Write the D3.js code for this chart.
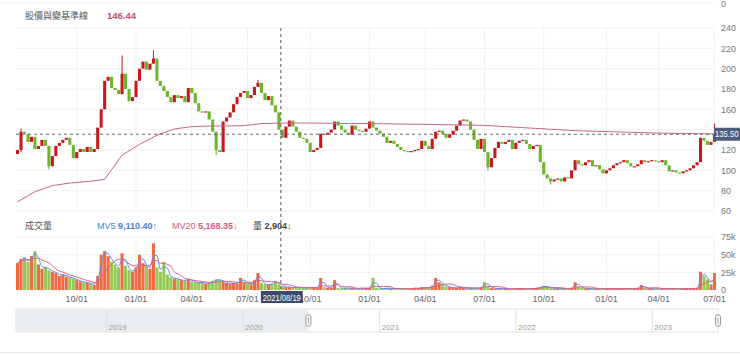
<!DOCTYPE html>
<html>
<head>
<meta charset="utf-8">
<script src="https://cdn.jsdelivr.net/npm/d3@7"></script>
<style>
  body { margin: 0; background: #fff; }
  svg { display: block; font-family: "Liberation Sans", Arial, sans-serif; }
</style>
</head>
<body>
<div id="plot"></div>
<script>
// one candle = about 3.5 trading days
const firstOpen = 116;
const closes = [
  120, 138, 136, 128, 133, 121, 124, 130, 124, 104,
  114, 124, 127, 130, 132, 125, 112, 118, 121, 118,
  123, 118, 121, 142, 160, 188, 192, 181, 179, 175,
  195, 180, 168, 172, 188, 200, 207, 199, 205, 210,
  188, 183, 178, 172, 167, 174, 171, 173, 167, 181,
  176, 166, 158, 157, 158, 150, 138, 120, 118, 148,
  152, 157, 165, 172, 176, 178, 171, 174, 182, 186,
  176, 169, 173, 164, 157, 140, 132, 143, 149, 143,
  138, 132, 131, 127, 118, 120, 122, 136, 135, 137,
  140, 148, 144, 140, 137, 135, 144, 140, 139, 138,
  141, 148, 142, 139, 136, 133, 127, 129, 126, 123,
  120, 119, 118, 119, 120, 121, 129, 124, 121, 131,
  138, 139, 136, 132, 135, 139, 144, 149, 150, 148,
  140, 130, 121, 131, 118, 103, 112, 122, 128, 126,
  128, 130, 121, 127, 129, 130, 126, 121, 124, 125,
  108, 96, 92, 89, 91, 92, 89, 93, 92, 100,
  110, 106, 105, 108, 110, 104, 105, 101, 97, 100,
  102, 105, 107, 108, 110, 107, 104, 104, 106, 110,
  108, 109, 110, 109, 108, 110, 105, 99, 100, 98,
  97, 99, 100, 102, 105, 108, 132, 129, 125, 128,
  135.5
];

// [candle index, low, high] for the visible long shadows
const wicks = [[1, 118, 141], [9, 101, 124], [30, 175, 213], [39, 205, 218],
  [57, 115, 138], [69, 182, 189], [135, 100, 118], [153, 86, 92], [200, 128, 146]];

// volume, thousands of lots
const volumes = [
  38, 44, 46, 40, 48, 55, 36, 30, 33, 28,
  26, 24, 20, 22, 19, 18, 16, 14, 12, 11,
  10, 9, 7, 20, 50, 55, 48, 40, 36, 32,
  52, 34, 28, 26, 32, 50, 38, 34, 30, 66,
  32, 26, 40, 22, 18, 16, 15, 14, 13, 16,
  12, 11, 10, 11, 9, 10, 13, 15, 14, 12,
  10, 9, 10, 9, 17, 11, 10, 8, 14, 24,
  10, 8, 7, 9, 13, 8, 5, 4, 4, 3,
  4, 3, 3, 3, 4, 3, 4, 17, 4, 3,
  3, 14, 3, 2, 3, 2, 3, 2, 2, 3,
  2, 3, 17, 3, 2, 2, 3, 2, 2, 2,
  2, 2, 2, 2, 3, 2, 4, 3, 4, 6,
  17, 11, 8, 5, 4, 3, 3, 4, 3, 2,
  3, 2, 3, 4, 11, 6, 3, 2, 2, 2,
  2, 2, 2, 2, 1.5, 2, 2, 2, 2, 3,
  4, 6, 4, 3, 2, 2, 2, 2, 2, 3,
  11, 5, 3, 2, 2, 2, 1.5, 2, 2, 2,
  2, 2, 1.5, 2, 2, 2, 1.5, 2, 3, 7,
  3, 2, 2, 1.5, 2, 2, 1.5, 2, 2, 2,
  1.5, 2, 2, 2, 2, 3, 26, 20, 15, 8,
  24
];

// pink base line, one value every 5 candles
const baseStep = 5;
const baseLine = [
  69, 79, 85, 87.5, 89, 91, 115, 125.5, 134.5, 140.7,
  143, 143.5, 143.6, 144, 146, 146.4, 146.5, 146.5, 146.3, 146,
  146, 145.8, 145.5, 145.3, 145, 144.8, 144.6, 144, 143, 142,
  141, 140, 139, 138.5, 138, 137.5, 137, 136.6, 136.3, 136,
  135.8
];

const priceTicks = [60, 80, 100, 120, 140, 160, 180, 200, 220, 240];
const volTicks = [0, 25, 50, 75];
const tickIdx = [17, 34, 50, 66, 84, 101, 117, 134, 151, 169, 184, 200];
const tickLabels = ["10/01", "01/01", "04/01", "07/01", "10/01", "01/01",
  "04/01", "07/01", "10/01", "01/01", "04/01", "07/01"];
const navYears = [2019, 2020, 2021, 2022, 2023];

const lastClose = 135.5;
const crossIdx = 76;
const crossDate = "2021/08/19";

const w = 740;
const h = 354;
const left = 16, right = 716;
const red = "#c9171e", green = "#6cb52d";

const svg = d3.select("div#plot")
    .append("svg")
    .attr("width", w)
    .attr("height", h);

const x = d3.scaleBand()
    .domain(d3.range(closes.length))
    .range([left, right])
    .paddingInner(0.12);
const bw = x.bandwidth();
const cx = i => x(i) + bw / 2;

const y = d3.scaleLinear()
    .domain([60, 240])
    .range([211, 28]);

const yv = d3.scaleLinear()
    .domain([0, 75])
    .range([290, 237]);

const opens = closes.map((c, i) => i === 0 ? firstOpen : closes[i - 1]);

// top border
svg.append("line")
    .attr("x1", 0).attr("x2", 713)
    .attr("y1", 3).attr("y2", 3)
    .attr("stroke", "#eee");
svg.append("text")
    .attr("x", 721).attr("y", 7)
    .attr("font-size", 9).attr("fill", "#777")
    .text("0");

// grid
const grid = svg.append("g").attr("stroke", "#f1f1f1");
grid.selectAll(".hp")
  .data(priceTicks)
  .enter().append("line")
    .attr("x1", left).attr("x2", 713)
    .attr("y1", d => y(d)).attr("y2", d => y(d));
grid.selectAll(".hv")
  .data(volTicks)
  .enter().append("line")
    .attr("x1", left).attr("x2", 713)
    .attr("y1", d => yv(d)).attr("y2", d => yv(d));
grid.selectAll(".vp")
  .data(tickIdx)
  .enter().append("line")
    .attr("x1", d => cx(d)).attr("x2", d => cx(d))
    .attr("y1", 28).attr("y2", 211);
grid.selectAll(".vv")
  .data(tickIdx)
  .enter().append("line")
    .attr("x1", d => cx(d)).attr("x2", d => cx(d))
    .attr("y1", 237).attr("y2", 290);

// headers
const head = svg.append("g")
    .attr("font-family", "'Noto Sans CJK TC', 'Liberation Sans', sans-serif")
    .attr("font-size", 9);
head.append("text").attr("x", 25).attr("y", 19).attr("fill", "#555").text("股價與變基準線");
head.append("text").attr("x", 107).attr("y", 19).attr("fill", "#c04d7c")
    .attr("font-family", "'Liberation Sans', Arial, sans-serif")
    .attr("font-weight", "bold").attr("font-size", 9.5).text("146.44");
head.append("text").attr("x", 25).attr("y", 229).attr("fill", "#555").text("成交量");

const legend = svg.append("g")
    .attr("font-family", "'Liberation Sans', Arial, sans-serif")
    .attr("font-size", 9);
legend.append("text").attr("x", 97).attr("y", 229).attr("fill", "#4b7fd4")
    .html('MV5 <tspan font-weight="bold">9,110.40</tspan>↑');
legend.append("text").attr("x", 172).attr("y", 229).attr("fill", "#d65a83")
    .html('MV20 <tspan font-weight="bold">5,168.35</tspan>↓');
legend.append("text").attr("x", 253).attr("y", 229).attr("fill", "#444")
    .html('<tspan font-family="Noto Sans CJK TC">量</tspan> <tspan font-weight="bold">2,904</tspan>↓');

// candles
const candles = svg.append("g");
candles.selectAll("line")
  .data(wicks)
  .enter().append("line")
    .attr("x1", d => cx(d[0])).attr("x2", d => cx(d[0]))
    .attr("y1", d => y(d[1])).attr("y2", d => y(d[2]))
    .attr("stroke", d => closes[d[0]] >= opens[d[0]] ? red : green)
    .attr("stroke-width", 1);
candles.selectAll("rect")
  .data(closes)
  .enter().append("rect")
    .attr("x", (d, i) => x(i))
    .attr("width", bw)
    .attr("y", (d, i) => y(Math.max(d, opens[i])))
    .attr("height", (d, i) => Math.max(1.2, Math.abs(y(d) - y(opens[i]))))
    .attr("fill", (d, i) => d >= opens[i] ? red : green);

// base line
svg.append("path")
    .datum(baseLine)
    .attr("fill", "none")
    .attr("stroke", "#c8668c")
    .attr("stroke-width", 1)
    .attr("d", d3.line()
      .x((d, i) => cx(i * baseStep))
      .y(d => y(d)));

// last price
svg.append("line")
    .attr("x1", left).attr("x2", 713)
    .attr("y1", y(lastClose)).attr("y2", y(lastClose))
    .attr("stroke", "#666")
    .attr("stroke-dasharray", "3,3");

// volume bars
svg.append("g")
  .selectAll("rect")
  .data(volumes)
  .enter().append("rect")
    .attr("x", (d, i) => x(i))
    .attr("width", bw)
    .attr("y", d => yv(d))
    .attr("height", d => yv(0) - yv(d))
    .attr("fill", (d, i) => closes[i] >= opens[i] ? "#ee6a45" : "#95c857");

// volume moving averages (2 and 6 candles ~ 5 and 20 days)
function rolling(arr, n) {
  return arr.map((d, i) => d3.mean(arr.slice(Math.max(0, i - n + 1), i + 1)));
}
const ma = [[rolling(volumes, 2), "#5b8def"], [rolling(volumes, 6), "#e0608a"]];
ma.forEach(m => {
  svg.append("path")
      .datum(m[0])
      .attr("fill", "none")
      .attr("stroke", m[1])
      .attr("stroke-width", 1)
      .attr("d", d3.line()
        .x((d, i) => cx(i))
        .y(d => yv(d))
        .curve(d3.curveMonotoneX));
});

// right axes (the 140 label sits under the last price tag)
const priceAxis = d3.axisRight(y)
    .tickValues(priceTicks.filter(d => Math.abs(d - lastClose) > 8))
    .tickSize(0).tickPadding(5);
svg.append("g")
    .attr("transform", "translate(716,0)")
    .call(priceAxis)
    .call(g => g.select(".domain").remove())
    .selectAll("text")
    .attr("fill", "#777")
    .attr("font-size", 9)
    .attr("font-family", "'Liberation Sans', Arial, sans-serif");

const volAxis = d3.axisRight(yv).tickValues(volTicks).tickSize(0).tickPadding(5)
    .tickFormat(d => d ? d + "k" : "0");
svg.append("g")
    .attr("transform", "translate(716,0)")
    .call(volAxis)
    .call(g => g.select(".domain").remove())
    .selectAll("text")
    .attr("fill", "#777")
    .attr("font-size", 9)
    .attr("font-family", "'Liberation Sans', Arial, sans-serif");

// x labels
svg.append("g")
  .selectAll("text")
  .data(tickIdx)
  .enter().append("text")
    .attr("x", d => cx(d))
    .attr("y", 302)
    .attr("text-anchor", "middle")
    .attr("font-size", 9)
    .attr("fill", "#666")
    .text((d, i) => tickLabels[i]);

// crosshair
const crossX = x(crossIdx);
svg.append("line")
    .attr("x1", crossX).attr("x2", crossX)
    .attr("y1", 28).attr("y2", 292)
    .attr("stroke", "#555")
    .attr("stroke-dasharray", "3,3");
svg.append("rect")
    .attr("x", crossX - 20).attr("y", 291)
    .attr("width", 42).attr("height", 12)
    .attr("fill", "#3c4a6a");
svg.append("text")
    .attr("x", crossX - 18).attr("y", 300.5)
    .attr("textLength", 38)
    .attr("lengthAdjust", "spacingAndGlyphs")
    .attr("font-size", 9)
    .attr("fill", "#fff")
    .text(crossDate);

// last price tag
svg.append("rect")
    .attr("x", 714).attr("y", y(lastClose) - 6.5)
    .attr("width", 26).attr("height", 13)
    .attr("fill", "#4e5d7e");
svg.append("text")
    .attr("x", 715).attr("y", y(lastClose) + 3.2)
    .attr("textLength", 23.5)
    .attr("lengthAdjust", "spacingAndGlyphs")
    .attr("font-size", 9)
    .attr("fill", "#fff")
    .text(lastClose.toFixed(2));

// navigator
const nx = d3.scaleTime()
    .domain([new Date(2018, 4, 3), new Date(2023, 5, 26)])
    .range([left, 718]);
const selStart = new Date(2020, 5, 24);
const nav = svg.append("g");
nav.append("rect")
    .attr("x", left).attr("y", 309)
    .attr("width", 718 - left).attr("height", 23)
    .attr("fill", "#fff")
    .attr("stroke", "#e3e3e3");
nav.append("rect")
    .attr("x", left).attr("y", 309)
    .attr("width", nx(selStart) - left).attr("height", 23)
    .attr("fill", "#e9edf0");
nav.selectAll("line")
  .data(navYears)
  .enter().append("line")
    .attr("x1", d => nx(new Date(d, 0, 1))).attr("x2", d => nx(new Date(d, 0, 1)))
    .attr("y1", 309).attr("y2", 332)
    .attr("stroke", "#ddd");
nav.selectAll("text")
  .data(navYears)
  .enter().append("text")
    .attr("x", d => nx(new Date(d, 0, 1)) + 2)
    .attr("y", 330)
    .attr("font-size", 8)
    .attr("fill", "#999")
    .text(d => d);
[nx(selStart), 718].forEach(hx => {
  nav.append("rect")
      .attr("x", hx - 2.5).attr("y", 315)
      .attr("width", 5).attr("height", 11)
      .attr("rx", 1.5)
      .attr("fill", "#f7f7f7")
      .attr("stroke", "#999");
  nav.append("line")
      .attr("x1", hx).attr("x2", hx)
      .attr("y1", 317.5).attr("y2", 323.5)
      .attr("stroke", "#aaa");
});

svg.append("line")
    .attr("x1", 0).attr("x2", w)
    .attr("y1", 352.5).attr("y2", 352.5)
    .attr("stroke", "#e6e6e6");
</script>
</body>
</html>
